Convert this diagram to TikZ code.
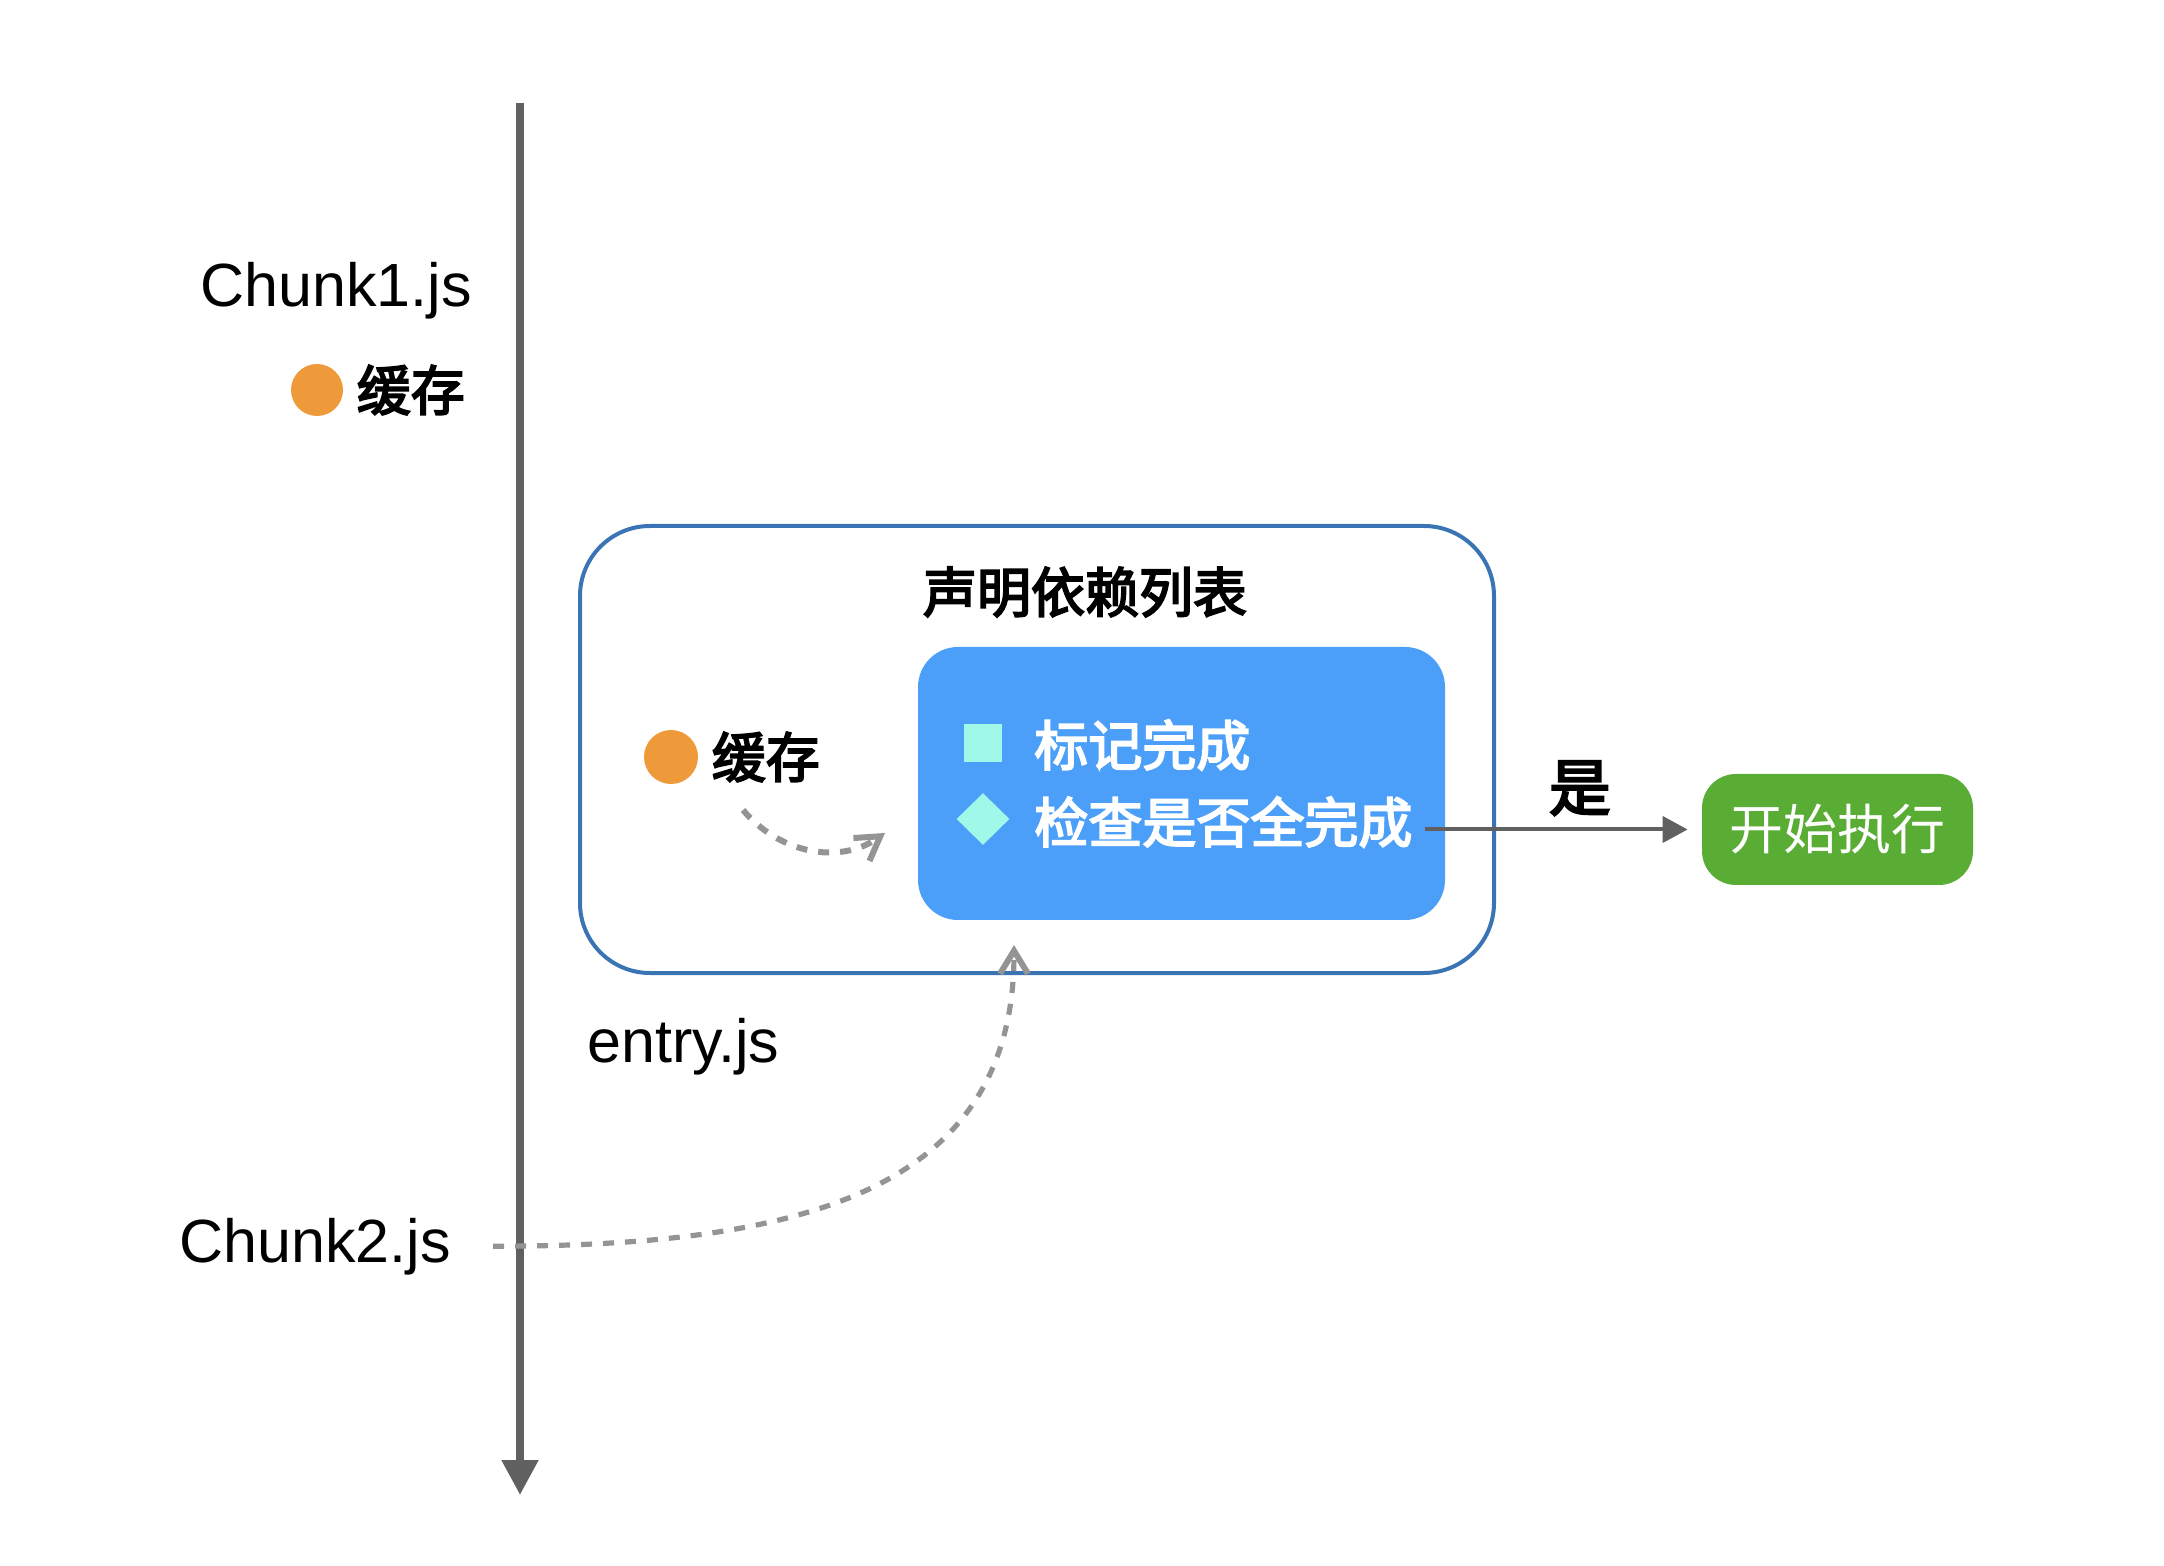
\documentclass[tikz,border=0pt]{standalone}
\usepackage{fontspec}
\setmainfont{Liberation Sans}
\newfontfamily\cjk{Noto Sans CJK SC}
\newfontfamily\cjkbold{Noto Sans CJK SC}[FakeBold=3.5]
\usetikzlibrary{shapes.geometric, positioning, arrows.meta}
\definecolor{axisgray}{HTML}{606060}
\definecolor{hintgray}{HTML}{949494}
\definecolor{cacheorange}{HTML}{EF9A3A}
\definecolor{boxblue}{HTML}{3A74B5}
\definecolor{listblue}{HTML}{4C9FF8}
\definecolor{mint}{HTML}{9FF8E8}
\definecolor{rungreen}{HTML}{59AC34}

\begin{document}
\begin{tikzpicture}[x=0.5pt, y=-0.5pt,
  file/.style={anchor=base west, inner sep=0pt, font=\fontsize{30.5}{36}\selectfont},
  zh/.style={inner sep=0pt, font=\cjkbold\fontsize{27}{32}\selectfont},
  dot/.style={circle, fill=cacheorange, inner sep=0pt, minimum size=26pt},
  hint/.style={draw=hintgray, line width=2.6pt, dash pattern=on 5.5pt off 5.5pt, -{Straight Barb[length=11.5pt, width=14pt, line width=3pt]}},
  flow/.style={draw=axisgray, line width=2pt, -{Triangle[length=12.5pt, width=13pt]}}]
  \useasboundingbox (0,0) rectangle (2164,1566);
  \coordinate (top) at (520,103);
  \coordinate (bottom) at (520,1495);
  \draw[draw=axisgray, line width=4pt, -{Triangle[length=17.5pt, width=17.5pt]}] (top) -- (bottom);
  \node[file] (chunk1) at (200,307) {Chunk1.js};
  \node[dot] (dot1) at (317,390) {};
  \node[zh, right=6.5pt of dot1] (cache1) {缓存};
  \node[draw=boxblue, line width=2pt, rounded corners=35pt, minimum width=457pt, minimum height=223.5pt] (deps) at (1037,749.5) {};
  \node[zh] (title) at (1085,592) {声明依赖列表};
  \node[fill=listblue, rounded corners=20pt, minimum width=263.5pt, minimum height=136.5pt] (list) at (1181.5,783.5) {};
  \node[fill=mint, inner sep=0pt, minimum size=19pt] (square) at (983,743) {};
  \node[zh, text=white, anchor=west] (mark) at (1034,745) {标记完成};
  \node[diamond, fill=mint, inner sep=0pt, minimum width=26.5pt, minimum height=26pt] (rhomb) at (983,819) {};
  \node[zh, text=white, anchor=west] (check) at (1034,822) {检查是否全完成};
  \node[dot, minimum size=27pt] (dot2) at (671,757) {};
  \node[zh, right=6.5pt of dot2] (cache2) {缓存};
  \node[fill=rungreen, rounded corners=17pt, minimum width=135.5pt, minimum height=55.5pt, text=white, font=\cjk\fontsize{27}{32}\selectfont] (run) at (1837.5,829.5) {开始执行};
  \draw[flow] ([xshift=6pt]check.east |- run.west) -- node[zh, pos=0.59, above=6pt, font=\cjkbold\fontsize{31}{36}\selectfont] (yes) {是} ([xshift=-7pt]run.west);
  \node[file] (entry) at (587,1062) {entry.js};
  \node[file] (chunk2) at (179,1262) {Chunk2.js};
  \coordinate (entryin) at (1014,945);
  \draw[hint] ([xshift=21pt]chunk2.east) .. controls +(300,0) and +(0,250) .. (entryin);
  \coordinate (from) at (743,810);
  \coordinate (to) at (885,833);
  \draw[hint, line width=3pt] (from) to[out=-50, in=215] (to);
\end{tikzpicture}
\end{document}
